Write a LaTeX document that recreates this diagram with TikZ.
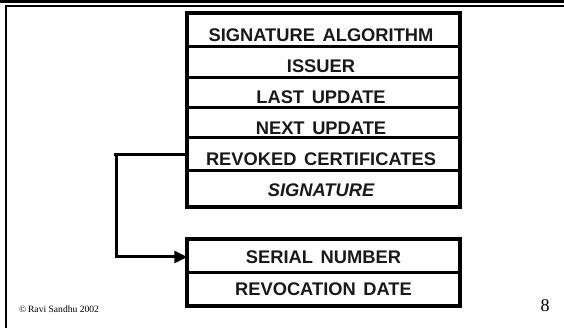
\documentclass[tikz,border=0pt]{standalone}
\usepackage{fontspec}
\setmainfont{Liberation Serif}
\newfontfamily\arialfont[WordSpace=1.5]{Liberation Sans}
\usetikzlibrary{arrows.meta}
\begin{document}
\begin{tikzpicture}[x=1pt,y=-1pt,
  field/.style={font=\arialfont\bfseries\fontsize{18.3}{18}\selectfont, minimum width=273pt, inner sep=0pt, text=black!90},
  border/.style={line width=3.5pt},
  sepline/.style={line width=3pt},
  conn/.style={line width=3pt}]
\useasboundingbox (0,0) rectangle (564,328);
% slide frame
\fill (0,0) rectangle (564,3.5);
\draw[line width=2pt] (5,5.8) -- (564,5.8);
\draw[line width=2pt] (5.5,5) -- (5.5,328);
% upper record
\coordinate (ua) at (187,13);
\coordinate (ub) at (460,207);
\draw[border] (ua) rectangle (ub);
\foreach \y in {47,78,108,138,171} \draw[sepline] (187,\y) -- (460,\y);
\node[field] (sig) at (321,35) {SIGNATURE ALGORITHM};
\node[field] (iss) at (321,66) {ISSUER};
\node[field] (last) at (321,97) {LAST UPDATE};
\node[field] (next) at (321,128) {NEXT UPDATE};
\node[field] (rev) at (321,159) {REVOKED CERTIFICATES};
\node[field] (sgn) at (321,190) {\itshape SIGNATURE};
% lower record
\coordinate (la) at (187,239);
\coordinate (lb) at (460,306);
\draw[border] (la) rectangle (lb);
\draw[sepline] (187,273) -- (460,273);
\node[field] (ser) at (323.5,257) {SERIAL NUMBER};
\node[field] (rvd) at (323.5,289) {REVOCATION DATE};
% connector
\coordinate (bend) at (116,155);
\draw[conn] ([xshift=2.5pt,yshift=4pt]rev.west) -- (114,155);
\draw[conn, -{Triangle[length=13pt,width=12pt]}] (bend) |- ([xshift=0.5pt]ser.west);
% footer
\node[anchor=west, inner sep=0pt, font=\fontsize{9.6}{10}\selectfont] (copy) at (19,309) {\textcopyright\,Ravi Sandhu 2002};
\node[anchor=center, inner sep=0pt, font=\fontsize{18}{18}\selectfont] (pg) at (545,306) {8};
\end{tikzpicture}
\end{document}
